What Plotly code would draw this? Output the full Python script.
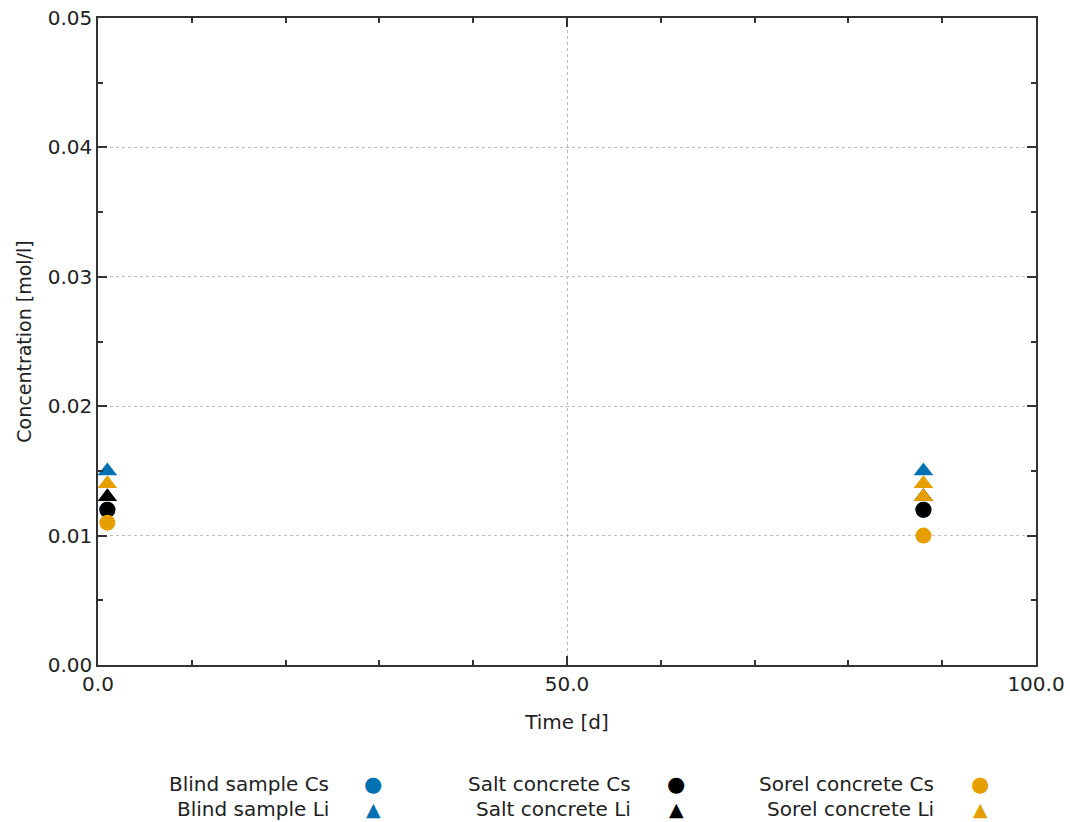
import plotly.graph_objects as go

# ---- data ----
days = [1, 88]
blind_cs = [0.012, 0.012]
blind_li = [0.015, 0.015]
salt_cs = [0.012, 0.012]
salt_li = [0.013, 0.013]
sorel_cs = [0.011, 0.010]
sorel_li_days = [1, 88, 88]
sorel_li = [0.014, 0.014, 0.013]

series_names = ["Blind sample Cs", "Blind sample Li", "Salt concrete Cs",
                "Salt concrete Li", "Sorel concrete Cs", "Sorel concrete Li"]
x_ticks = [0, 50, 100]
y_ticks = [0.00, 0.01, 0.02, 0.03, 0.04, 0.05]

BLUE = "#0072B2"
BLACK = "#000000"
ORANGE = "#E69F00"
FONT = "DejaVu Sans"
TXT = "#222222"

W, H = 1070, 822
L, R, T, B = 98, 1036, 18, 665

fig = go.Figure()
specs = [
    (series_names[0], days, blind_cs, BLUE, "circle"),
    (series_names[1], days, blind_li, BLUE, "triangle-up"),
    (series_names[2], days, salt_cs, BLACK, "circle"),
    (series_names[3], days, salt_li, BLACK, "triangle-up"),
    (series_names[4], days, sorel_cs, ORANGE, "circle"),
    (series_names[5], sorel_li_days, sorel_li, ORANGE, "triangle-up"),
]
for name, xs, ys, col, sym in specs:
    fig.add_trace(go.Scatter(
        x=xs, y=ys, mode="markers", name=name,
        marker=dict(color=col, symbol=sym, size=16 if sym == "circle" else 17, line=dict(width=0)),
        showlegend=False,
    ))

axis_common = dict(
    showline=True, linecolor="#333333", linewidth=1.5, mirror="allticks",
    ticks="inside", ticklen=9, tickwidth=1.5, tickcolor="#333333",
    showgrid=True, gridcolor="#bdbdbd", griddash="dot", gridwidth=1,
    zeroline=False, automargin=False,
    tickfont=dict(family=FONT, size=20, color=TXT),
)

fig.update_xaxes(
    range=[0, 100], tickvals=x_ticks, ticktext=[f"{v:.1f}" for v in x_ticks],
    minor=dict(dtick=10, tick0=0, ticks="inside", ticklen=5, tickcolor="#333333", showgrid=False),
    title=dict(text="Time [d]", font=dict(family=FONT, size=20, color=TXT), standoff=20),
    **axis_common,
)
fig.update_yaxes(
    range=[0, 0.05], tickvals=y_ticks, ticktext=[f"{v:.2f}" for v in y_ticks],
    minor=dict(dtick=0.005, tick0=0, ticks="inside", ticklen=5, tickcolor="#333333", showgrid=False),
    title=dict(text="Concentration [mol/l]", font=dict(family=FONT, size=19, color=TXT), standoff=11),
    **axis_common,
)

# ---- gnuplot-style legend: right-aligned text followed by symbol ----
def px(xp):
    return (xp - L) / (R - L)

def py(yp):
    return (B - yp) / (B - T)

legend_cols = [(331, 373, BLUE, 0, 1), (633, 676, BLACK, 2, 3), (936, 980, ORANGE, 4, 5)]
annotations = []
for text_right, sym_x, col, i_cs, i_li in legend_cols:
    for row_y, idx, glyph, gsize in [(784, i_cs, "●", 21), (809, i_li, "▲", 19)]:
        annotations.append(dict(
            x=px(text_right), y=py(row_y), xref="paper", yref="paper",
            text=series_names[idx], showarrow=False, xanchor="right", yanchor="middle",
            font=dict(family=FONT, size=20, color=TXT),
        ))
        annotations.append(dict(
            x=px(sym_x), y=py(row_y), xref="paper", yref="paper",
            text=glyph, showarrow=False, xanchor="center", yanchor="middle",
            font=dict(family=FONT, size=gsize, color=col),
        ))

fig.update_layout(
    width=W, height=H,
    margin=dict(l=L, r=W - R, t=T, b=H - B),
    plot_bgcolor="white", paper_bgcolor="white",
    annotations=annotations,
    showlegend=False,
)

fig.write_html("out.html")
